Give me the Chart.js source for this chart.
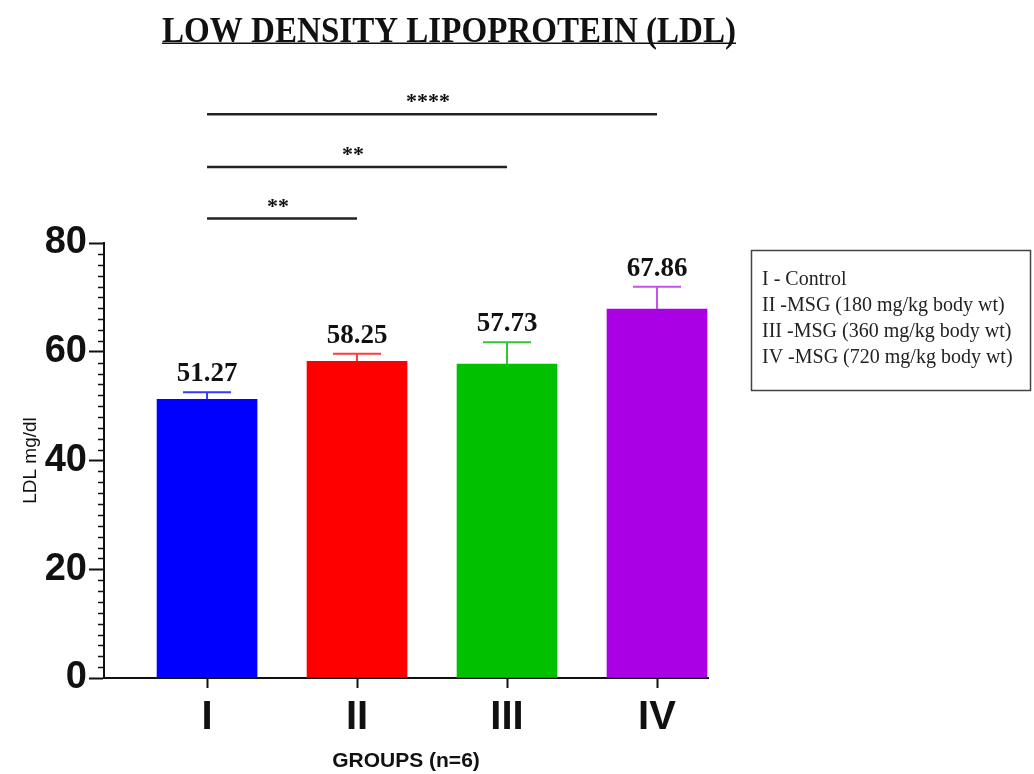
<!DOCTYPE html>
<html>
<head>
<meta charset="utf-8">
<script src="https://cdn.jsdelivr.net/npm/chart.js@4.4.1/dist/chart.umd.min.js"></script>
<style>
  html, body { margin: 0; padding: 0; background: #fff; }
  #wrap { width: 1034px; height: 774px; position: relative; }
</style>
</head>
<body>
<div id="wrap"><canvas id="ldl"></canvas></div>
<script>
const groups = ['I', 'II', 'III', 'IV'];
const ldlMeans = [51.27, 58.25, 57.73, 67.86];
const ldlErrors = [1.3, 1.4, 4.0, 4.1];
const yTicks = [0, 20, 40, 60, 80];
const legendLines = [
  'I - Control',
  'II -MSG (180 mg/kg body wt)',
  'III -MSG (360 mg/kg body wt)',
  'IV -MSG (720 mg/kg body wt)',
];
const comparisons = [
  { from: 0, to: 1, mark: '**' },
  { from: 0, to: 2, mark: '**' },
  { from: 0, to: 3, mark: '****' },
];
const TITLE = 'LOW DENSITY LIPOPROTEIN (LDL)';

const barColors = ['#0000ff', '#ff0000', '#00c000', '#aa00e6'];
const errorColors = ['#3a3aff', '#ff3a3a', '#30c830', '#c452ee'];
const SERIF = '"Liberation Serif", "Times New Roman", serif';
const SANS = '"Liberation Sans", Arial, sans-serif';
const INK = '#111';
// bracket heights in axis units (they sit above the 80 line)
const BRACKET_LEVELS = [84.5, 94, 103.7];

const annotate = {
  id: 'annotate',
  afterDatasetsDraw(chart) {
    const { ctx } = chart;
    const y = chart.scales.y;
    const bars = chart.getDatasetMeta(0).data;
    ctx.save();

    // error bars (upper half only) and mean labels
    bars.forEach((bar, i) => {
      const top = y.getPixelForValue(ldlMeans[i] + ldlErrors[i]);
      ctx.strokeStyle = errorColors[i];
      ctx.lineWidth = 2;
      ctx.beginPath();
      ctx.moveTo(bar.x, bar.y);
      ctx.lineTo(bar.x, top);
      ctx.moveTo(bar.x - 24, top);
      ctx.lineTo(bar.x + 24, top);
      ctx.stroke();

      ctx.fillStyle = INK;
      ctx.font = 'bold 27px ' + SERIF;
      ctx.textAlign = 'center';
      ctx.textBaseline = 'alphabetic';
      ctx.fillText(ldlMeans[i].toFixed(2), bar.x, top - 11);
    });

    // significance brackets
    comparisons.forEach((c, k) => {
      const yy = y.getPixelForValue(BRACKET_LEVELS[k]);
      const x0 = bars[c.from].x, x1 = bars[c.to].x;
      ctx.strokeStyle = '#222';
      ctx.lineWidth = 2.5;
      ctx.beginPath();
      ctx.moveTo(x0, yy);
      ctx.lineTo(x1, yy);
      ctx.stroke();
      ctx.fillStyle = INK;
      ctx.font = 'bold 22px ' + SERIF;
      ctx.textAlign = 'center';
      ctx.textBaseline = 'alphabetic';
      ctx.fillText(c.mark, (x0 + x1) / 2 - 4, yy - 6);
    });
    ctx.restore();
  },
  afterDraw(chart) {
    const { ctx } = chart;
    const y = chart.scales.y;
    ctx.save();

    // minor ticks every 2 units
    ctx.strokeStyle = INK;
    ctx.lineWidth = 1.5;
    ctx.beginPath();
    for (let v = 2; v < 80; v += 2) {
      if (v % 20 === 0) continue;
      const py = Math.round(y.getPixelForValue(v)) + 0.5;
      ctx.moveTo(y.right - 6, py);
      ctx.lineTo(y.right, py);
    }
    ctx.stroke();

    // title, condensed and underlined
    ctx.fillStyle = INK;
    ctx.font = 'bold 36px ' + SERIF;
    ctx.textAlign = 'left';
    ctx.textBaseline = 'alphabetic';
    const w = ctx.measureText(TITLE).width;
    ctx.save();
    ctx.translate(162, 42);
    ctx.scale(574 / w, 1);
    ctx.fillText(TITLE, 0, 0);
    ctx.restore();
    ctx.fillRect(162, 42.5, 574, 1.5);

    // legend box
    ctx.strokeStyle = '#444';
    ctx.lineWidth = 1.5;
    ctx.strokeRect(751.5, 250.5, 279, 140);
    ctx.fillStyle = '#222';
    ctx.font = '20px ' + SERIF;
    legendLines.forEach((t, i) => ctx.fillText(t, 762, 285 + i * 26));

    ctx.restore();
  },
};

new Chart(document.getElementById('ldl'), {
  type: 'bar',
  data: {
    datasets: [{
      data: groups.map((g, i) => ({ x: i, y: ldlMeans[i] })),
      backgroundColor: barColors,
      barThickness: 100,
      borderWidth: 0,
    }],
  },
  options: {
    responsive: true,
    maintainAspectRatio: false,
    animation: false,
    layout: { padding: { top: 243, right: 326, left: 0, bottom: 0 } },
    plugins: {
      legend: { display: false },
      tooltip: { enabled: false },
    },
    scales: {
      x: {
        type: 'linear',
        offset: false,
        min: -0.687,
        max: 3.34,
        afterBuildTicks: (s) => { s.ticks = groups.map((_, i) => ({ value: i })); },
        afterFit: (s) => { s.height = 96; },
        ticks: {
          callback: (v) => groups[v],
          font: { family: SANS, size: 40, weight: 'bold' },
          color: INK,
          padding: 6,
          autoSkip: false,
          maxRotation: 0,
        },
        grid: { offset: false, drawOnChartArea: false, tickLength: 10, tickWidth: 2, color: INK },
        border: { color: INK, width: 2 },
        title: {
          display: true,
          text: 'GROUPS (n=6)',
          font: { family: SANS, size: 21, weight: 'bold' },
          color: INK,
          padding: { top: 0, bottom: 0 },
        },
      },
      y: {
        min: 0,
        max: 80,
        afterBuildTicks: (s) => { s.ticks = yTicks.map((v) => ({ value: v })); },
        afterFit: (s) => { s.width = 104; },
        ticks: {
          font: { family: SANS, size: 38, weight: 'bold' },
          color: INK,
          padding: 2,
        },
        grid: { drawOnChartArea: false, tickLength: 15, tickWidth: 2, color: INK },
        border: { color: INK, width: 2 },
        title: {
          display: true,
          text: 'LDL mg/dl',
          font: { family: SANS, size: 19 },
          color: INK,
          padding: { top: 19, bottom: 0 },
        },
      },
    },
  },
  plugins: [annotate],
});
</script>
</body>
</html>
